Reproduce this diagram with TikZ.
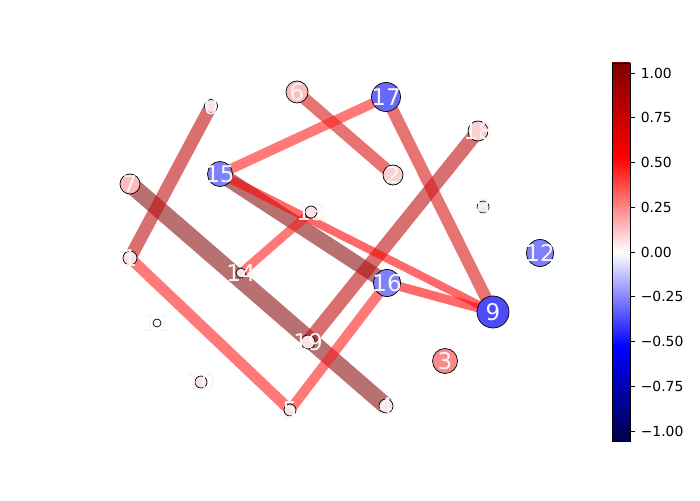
\documentclass[tikz,border=0pt]{standalone}
\usepackage{fontspec}
\setmainfont{DejaVu Sans}
\usepackage{xcolor}
\usetikzlibrary{positioning}

\definecolor{pale}{RGB}{252,226,226}
\definecolor{pinkA}{RGB}{250,208,208}
\definecolor{pinkB}{RGB}{250,190,190}
\definecolor{salmon}{RGB}{248,138,138}
\definecolor{lav}{RGB}{232,232,252}
\definecolor{blueA}{RGB}{128,128,252}
\definecolor{blueB}{RGB}{104,104,252}
\definecolor{blueC}{RGB}{76,76,248}
\definecolor{eBrown}{RGB}{137,17,17}
\definecolor{eDark}{RGB}{190,17,17}
\definecolor{eMid}{RGB}{215,22,22}
\definecolor{eLight}{RGB}{255,32,32}
\definecolor{eRed}{RGB}{255,5,5}
\definecolor{sNavy}{RGB}{0,0,77}
\definecolor{sDark}{RGB}{128,0,0}

\pgfdeclareverticalshading{seismic}{100bp}{color(0bp)=(sNavy); color(25bp)=(sNavy); color(37.5bp)=(blue); color(50bp)=(white); color(62.5bp)=(red); color(75bp)=(sDark); color(100bp)=(sDark)}

\pgfdeclarelayer{edges}
\pgfsetlayers{edges,main}

\begin{document}
\begin{tikzpicture}[x=1pt, y=-1pt,
    vert/.style={circle, draw=black, line width=0.7pt, inner sep=0pt, minimum size=#1},
    lbl/.style={text=gray!7, inner sep=0pt, font=\fontsize{23}{23}\selectfont},
    link/.style={line width=#1, opacity=0.6},
    tickmark/.style={line width=0.8pt},
    ticklbl/.style={anchor=west, inner xsep=5pt, inner ysep=0pt, font=\fontsize{13.9}{14}\selectfont}]

\useasboundingbox (0,0) rectangle (700,500);

% vertices
\foreach \n/\x/\y/\d/\c in {0/211/106/13/pale, 1/130/258/14/pale, 2/393/175/20/pinkA,
    3/445/361/25/salmon, 4/386/406/14/pale, 5/290/410/12/pale, 6/297/92/22/pinkB,
    7/130/184/20/pinkB, 8/483/207/12/lav, 9/493/312/32/blueC, 10/201/382/12/pale,
    11/157/323/8/white, 12/540/253/27/blueA, 13/311/212/12/pale, 14/241/273/10/pale,
    15/220/174/25/blueA, 16/387/283/27/blueA, 17/386/97/29/blueB, 18/478/131/20/pinkA,
    19/308/342/14/pale}
  \node[vert=\d, fill=\c, label={[lbl]center:\n}] (n\n) at (\x,\y) {};

% edges
\begin{pgfonlayer}{edges}
\draw[link=17, draw=eBrown] (n7.center) -- (n4.center);
\draw[link=15, draw=eBrown] (n15.center) -- (n16.center);
\draw[link=13, draw=eDark] (n0.center) -- (n1.center);
\draw[link=14, draw=eDark] (n18.center) -- (n19.center);
\draw[link=12, draw=eMid] (n6.center) -- (n2.center);
\draw[link=12, draw=eMid] (n17.center) -- (n9.center);
\draw[link=10, draw=eLight] (n17.center) -- (n15.center);
\draw[link=11, draw=eLight] (n1.center) -- (n5.center);
\draw[link=10, draw=eLight] (n5.center) -- (n16.center);
\draw[link=9, draw=eLight] (n13.center) -- (n14.center);
\draw[link=8, draw=eRed] (n15.center) -- (n9.center);
\draw[link=9, draw=eRed] (n16.center) -- (n9.center);
\end{pgfonlayer}

% colour bar
\node[draw=black, line width=0.8pt, shading=seismic, minimum width=18, minimum height=378, inner sep=0pt] (cbar) at (621,252) {};
\foreach \v/\t in {1/1.00, 0.75/0.75, 0.5/0.50, 0.25/0.25, 0/0.00,
    -0.25/−0.25, -0.5/−0.50, -0.75/−0.75, -1/−1.00}
  \draw[tickmark] (cbar.east) ++(0,{-179*\v}) -- ++(5,0) node[ticklbl] {\t};
\end{tikzpicture}
\end{document}
